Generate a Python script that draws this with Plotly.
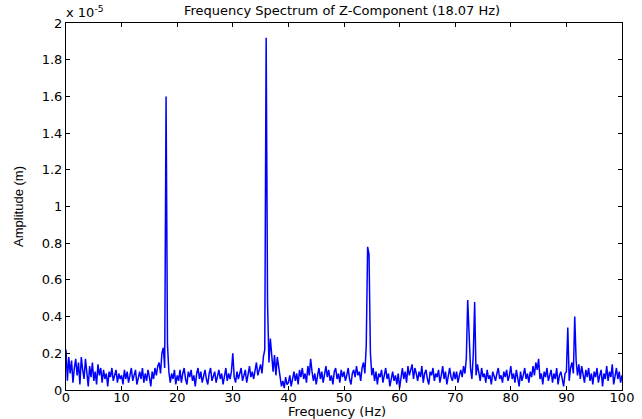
import numpy as np
import plotly.graph_objects as go

freq_step = 0.25  # Hz
# Amplitude in units of 1e-5 m, sampled every 0.25 Hz from 0 to 100 Hz
amp_0_10 = [0.22,0.05,0.18,0.09,0.16,0.04,0.12,0.17,0.08,0.15,
            0.03,0.18,0.11,0.06,0.17,0.09,0.02,0.13,0.07,0.15,
            0.05,0.10,0.03,0.14,0.08,0.12,0.04,0.11,0.06,0.09,
            0.02,0.10,0.07,0.12,0.05,0.08,0.11,0.04,0.09,0.06]
amp_10_20 = [0.08,0.03,0.11,0.06,0.10,0.04,0.09,0.12,0.05,0.08,
             0.11,0.03,0.07,0.10,0.06,0.12,0.04,0.09,0.05,0.11,
             0.07,0.02,0.10,0.06,0.12,0.08,0.13,0.15,0.09,0.20,
             0.23,0.12,1.60,0.25,0.10,0.04,0.09,0.06,0.11,0.03]
amp_20_30 = [0.08,0.05,0.11,0.04,0.09,0.12,0.06,0.03,0.10,0.07,
             0.11,0.05,0.08,0.02,0.09,0.12,0.06,0.10,0.04,0.08,
             0.11,0.06,0.03,0.09,0.12,0.05,0.08,0.10,0.04,0.07,
             0.11,0.06,0.09,0.03,0.08,0.12,0.05,0.09,0.06,0.10]
amp_30_40 = [0.20,0.07,0.04,0.10,0.06,0.09,0.12,0.05,0.08,0.11,
             0.04,0.09,0.13,0.07,0.10,0.06,0.12,0.15,0.08,0.11,
             0.14,0.09,0.18,0.22,1.92,0.47,0.15,0.28,0.17,0.10,
             0.19,0.08,0.18,0.12,0.06,0.02,0.05,0.01,0.07,0.03]
amp_40_50 = [0.04,0.08,0.02,0.06,0.10,0.05,0.09,0.03,0.11,0.07,
             0.12,0.06,0.09,0.04,0.13,0.08,0.17,0.10,0.05,0.09,
             0.03,0.08,0.12,0.06,0.10,0.04,0.09,0.13,0.07,0.11,
             0.05,0.08,0.03,0.10,0.12,0.06,0.09,0.04,0.11,0.07]
amp_50_60 = [0.10,0.05,0.08,0.12,0.06,0.03,0.09,0.11,0.07,0.13,
             0.08,0.10,0.05,0.12,0.15,0.09,0.24,0.78,0.74,0.20,
             0.08,0.12,0.05,0.10,0.03,0.09,0.07,0.11,0.04,0.08,
             0.12,0.06,0.09,0.02,0.07,0.10,0.05,0.08,0.03,0.09]
amp_60_70 = [0.01,0.08,0.12,0.06,0.10,0.04,0.13,0.08,0.11,0.14,
             0.06,0.12,0.09,0.05,0.10,0.07,0.13,0.04,0.09,0.11,
             0.06,0.03,0.10,0.08,0.12,0.05,0.09,0.07,0.11,0.04,
             0.08,0.13,0.06,0.10,0.03,0.09,0.12,0.07,0.05,0.10]
amp_70_80 = [0.06,0.10,0.04,0.08,0.11,0.07,0.13,0.09,0.17,0.49,
             0.30,0.12,0.06,0.19,0.48,0.08,0.14,0.10,0.05,0.12,
             0.07,0.09,0.04,0.11,0.06,0.08,0.03,0.10,0.07,0.05,
             0.09,0.12,0.06,0.08,0.04,0.10,0.07,0.11,0.05,0.08]
amp_80_90 = [0.13,0.06,0.09,0.04,0.11,0.07,0.02,0.10,0.05,0.08,
             0.12,0.06,0.09,0.04,0.10,0.07,0.13,0.08,0.15,0.11,
             0.17,0.06,0.09,0.03,0.10,0.07,0.12,0.05,0.08,0.11,
             0.04,0.09,0.06,0.12,0.03,0.08,0.10,0.05,0.02,0.09]
amp_90_100 = [0.10,0.34,0.05,0.12,0.15,0.09,0.40,0.16,0.08,0.14,
              0.06,0.13,0.09,0.04,0.11,0.07,0.12,0.05,0.09,0.03,
              0.10,0.07,0.12,0.04,0.08,0.11,0.02,0.09,0.06,0.13,
              0.05,0.10,0.07,0.14,0.03,0.09,0.12,0.06,0.10,0.04,
              0.08]

amp_e5 = (amp_0_10 + amp_10_20 + amp_20_30 + amp_30_40 + amp_40_50 +
          amp_50_60 + amp_60_70 + amp_70_80 + amp_80_90 + amp_90_100)
freq = np.arange(len(amp_e5)) * freq_step

title_text = "Frequency Spectrum of Z-Component (18.07 Hz)"
x_label = "Frequency (Hz)"
y_label = "Amplitude (m)"
x_ticks = list(range(0, 101, 10))
y_ticks = [0, 0.2, 0.4, 0.6, 0.8, 1, 1.2, 1.4, 1.6, 1.8, 2]

font = "DejaVu Sans, Verdana, sans-serif"
narrow = "Liberation Sans Narrow, Arial Narrow, Liberation Sans, sans-serif"

fig = go.Figure()
fig.add_trace(go.Scatter(x=freq, y=amp_e5, mode="lines",
                         line=dict(color="#0000ff", width=1.5),
                         showlegend=False, hoverinfo="x+y"))

axis_common = dict(showgrid=False, zeroline=False, showline=True,
                   linecolor="black", linewidth=1, mirror="allticks",
                   ticks="inside", ticklen=4, tickcolor="black",
                   automargin=False,
                   tickfont=dict(family=font, size=13, color="black"))

fig.update_xaxes(range=[0, 100], tickvals=x_ticks, ticklabelstandoff=-5,
                 **axis_common)
fig.update_yaxes(range=[0, 2], tickvals=y_ticks,
                 ticktext=[("%g" % v) for v in y_ticks], **axis_common)

fig.update_layout(
    width=642, height=419,
    margin=dict(l=66, r=20, t=23, b=29),
    paper_bgcolor="white", plot_bgcolor="white",
    annotations=[
        dict(text=title_text, xref="paper", yref="paper", x=0.497, y=1.033,
             xanchor="center", yanchor="middle", showarrow=False,
             font=dict(family=font, size=13, color="black")),
        dict(text=x_label, xref="paper", yref="paper", x=0.487, y=-0.058,
             xanchor="center", yanchor="middle", showarrow=False,
             font=dict(family=font, size=13, color="black")),
        dict(text=y_label, xref="paper", yref="paper", x=-0.0845, y=0.499,
             xanchor="center", yanchor="middle", showarrow=False, textangle=-90,
             font=dict(family=narrow, size=13, color="black")),
        dict(text="x 10<sup>-5</sup>", xref="paper", yref="paper",
             x=0, y=1, xanchor="left", yanchor="bottom", showarrow=False,
             yshift=1, xshift=-2,
             font=dict(family=font, size=13, color="black")),
    ],
)

fig.write_html("out.html")
